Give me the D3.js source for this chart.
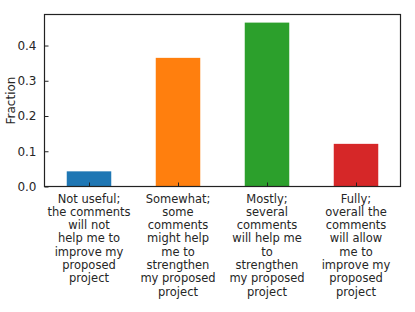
<!DOCTYPE html>
<html>
<head>
<meta charset="utf-8">
<style>
body { margin: 0; background: #fff; }
text { font-family: "DejaVu Sans", sans-serif; fill: #262626; }
.frame { fill: none; stroke: #222; stroke-width: 1.2; }
</style>
</head>
<body>
<svg width="415" height="312"></svg>
<script src="https://d3js.org/d3.v7.min.js"></script>
<script>

// answer categories, one label line per entry
var categories = [
  ["Not useful;", "the comments", "will not", "help me to", "improve my", "proposed", "project"],
  ["Somewhat;", "some", "comments", "might help", "me to", "strengthen", "my proposed", "project"],
  ["Mostly;", "several", "comments", "will help me", "to", "strengthen", "my proposed", "project"],
  ["Fully;", "overall the", "comments", "will allow", "me to", "improve my", "proposed", "project"]
];
var fractions = [0.043, 0.365, 0.465, 0.121];
var colors = ["#1f77b4", "#ff7f0e", "#2ca02c", "#d62728"];
var yTicks = [0.0, 0.1, 0.2, 0.3, 0.4];

var svg = d3.select("svg");
var m = { left: 44.5, right: 400.5, top: 14.5, bottom: 186.5 };

// bars sit at 0..3, axis runs -0.5..3.5 like the original
var x = d3.scaleLinear().domain([-0.5, 3.5]).range([m.left, m.right]);
var y = d3.scaleLinear().domain([0, 0.488]).range([m.bottom, m.top]);
var barW = x(0.5) - x(0);

svg.append("g")
  .selectAll("rect")
  .data(fractions)
  .enter().append("rect")
    .attr("x", function(d, i) { return x(i) - barW / 2; })
    .attr("y", function(d) { return y(d); })
    .attr("width", barW)
    .attr("height", function(d) { return y(0) - y(d); })
    .attr("fill", function(d, i) { return colors[i]; });

// y axis, ticks pointing in
var yAxis = svg.append("g")
  .attr("transform", "translate(" + m.left + ",0)")
  .call(d3.axisLeft(y).tickValues(yTicks).tickFormat(d3.format(".1f")).tickSizeInner(-4).tickSizeOuter(0).tickPadding(8));
yAxis.select(".domain").remove();
yAxis.selectAll("line").attr("stroke", "#222");
yAxis.selectAll("text").attr("font-size", 12).attr("fill", "#262626").style("font-family", "DejaVu Sans");

// x ticks, pointing in
var xAxis = svg.append("g")
  .attr("transform", "translate(0," + m.bottom + ")")
  .call(d3.axisBottom(x).tickValues(d3.range(categories.length)).tickSizeInner(-4).tickSizeOuter(0).tickFormat(""));
xAxis.select(".domain").remove();
xAxis.selectAll("line").attr("stroke", "#222");

// multi-line category labels
svg.append("g")
  .selectAll("text")
  .data(categories)
  .enter().append("text")
    .attr("text-anchor", "middle")
    .attr("font-size", 11.5)
    .attr("transform", function(d, i) { return "translate(" + x(i) + "," + (m.bottom + 16) + ")"; })
  .selectAll("tspan")
  .data(function(d) { return d; })
  .enter().append("tspan")
    .attr("x", 0)
    .attr("y", function(d, j) { return j * 13.3; })
    .text(function(d) { return d; });

svg.append("rect")
  .attr("class", "frame")
  .attr("x", m.left).attr("y", m.top)
  .attr("width", m.right - m.left).attr("height", m.bottom - m.top);

svg.append("text")
  .attr("transform", "translate(15," + ((m.top + m.bottom) / 2) + ") rotate(-90)")
  .attr("text-anchor", "middle")
  .attr("font-size", 12)
  .text("Fraction");

</script>
</body>
</html>
